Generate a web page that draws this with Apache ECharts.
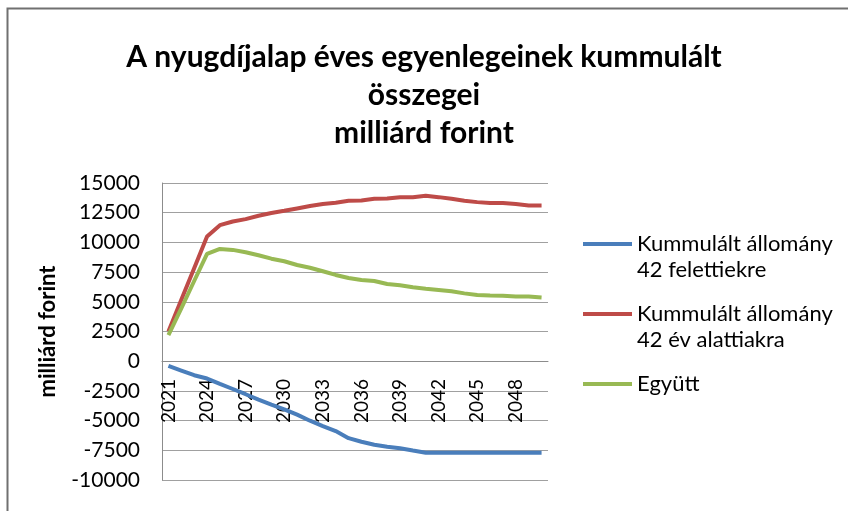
<!DOCTYPE html>
<html>
<head>
<meta charset="utf-8">
<script src="https://cdn.jsdelivr.net/npm/echarts@6/dist/echarts.min.js"></script>
<style>
  html, body { margin: 0; padding: 0; background: #fff; }
  #chart { width: 848px; height: 511px; }
</style>
</head>
<body>
<div id="chart"></div>
<script>
// évek
var years = ['2021','2022','2023','2024','2025','2026','2027','2028','2029','2030',
  '2031','2032','2033','2034','2035','2036','2037','2038','2039','2040',
  '2041','2042','2043','2044','2045','2046','2047','2048','2049','2050'];

// Kummulált állomány 42 felettiekre
var felett = [-400, -790, -1180, -1460, -1910, -2340, -2780, -3230, -3650, -4050,
  -4500, -5010, -5460, -5880, -6480, -6780, -7030, -7200, -7330, -7520,
  -7700, -7700, -7700, -7700, -7700, -7700, -7700, -7700, -7700, -7700];

// Kummulált állomány 42 év alattiakra
var alatt = [2500, 5170, 7830, 10500, 11450, 11760, 11960, 12240, 12470, 12660,
  12860, 13060, 13230, 13340, 13500, 13530, 13670, 13700, 13810, 13810,
  13920, 13810, 13670, 13500, 13390, 13310, 13310, 13230, 13110, 13110];

// Együtt
var egyutt = [2200, 4450, 6750, 9030, 9450, 9370, 9170, 8920, 8630, 8410,
  8100, 7870, 7570, 7260, 7000, 6830, 6750, 6500, 6390, 6220,
  6100, 5990, 5880, 5710, 5570, 5530, 5510, 5450, 5450, 5370];

var names = ['Kummulált állomány\n42 felettiekre', 'Kummulált állomány\n42 év alattiakra', 'Együtt'];
var colors = ['#4a7ebb', '#be4b48', '#98b954'];

var font = 'Lato, "Noto Sans", sans-serif';

var myChart = echarts.init(document.getElementById('chart'));

// egy legenda-elem; a kétsoros szövegnél az első sor álljon a vonal mellett
function legendFor(i, top, twoLines) {
  return {
    orient: 'vertical',
    left: 583,
    top: top,
    padding: 0,
    icon: 'rect',
    itemWidth: 49,
    itemHeight: 4,
    itemGap: 4,
    selectedMode: false,
    data: [names[i]],
    formatter: function (n) { return twoLines ? ' \n' + n : n; },
    textStyle: {
      fontFamily: font,
      fontSize: 22,
      lineHeight: 26,
      color: '#000'
    }
  };
}

var option = {
  animation: false,
  textStyle: { fontFamily: font },
  title: {
    text: 'A nyugdíjalap éves egyenlegeinek kummulált\nösszegei\nmilliárd forint',
    left: 'center',
    top: 33,
    textStyle: {
      fontFamily: font,
      fontSize: 30,
      fontWeight: 'bold',
      lineHeight: 38,
      color: '#000'
    }
  },
  graphic: [{
    type: 'rect',
    shape: { x: 7.5, y: 8.5, width: 900, height: 600 },
    style: { fill: 'none', stroke: '#707070', lineWidth: 2 },
    silent: true
  }],
  legend: [
    legendFor(0, 205, true),
    legendFor(1, 275, true),
    legendFor(2, 371, false)
  ],
  grid: { left: 162, top: 183, right: 300, bottom: 31, containLabel: false, outerBoundsMode: 'none' },
  xAxis: {
    type: 'category',
    data: years,
    boundaryGap: true,
    offset: -119,
    axisLine: { onZero: false, lineStyle: { color: '#8c8c8c', width: 1 } },
    axisTick: { show: false },
    axisLabel: {
      interval: 2,
      rotate: 90,
      fontSize: 19,
      color: '#000',
      margin: 18
    },
    splitLine: { show: false }
  },
  yAxis: {
    type: 'value',
    min: -10000,
    max: 15000,
    interval: 2500,
    name: 'milliárd forint',
    nameLocation: 'middle',
    nameGap: 103,
    nameTextStyle: { fontSize: 22, fontWeight: 'bold', color: '#000' },
    axisLine: { show: true, lineStyle: { color: '#8c8c8c' } },
    axisTick: { show: false },
    axisLabel: { fontSize: 21, color: '#000', margin: 22, formatter: function (v) { return String(v); } },
    splitLine: { lineStyle: { color: '#a0a0a0', width: 1 } }
  },
  series: [
    { name: names[0], type: 'line', data: felett, symbol: 'none', lineStyle: { width: 4, color: colors[0] }, itemStyle: { color: colors[0] } },
    { name: names[1], type: 'line', data: alatt, symbol: 'none', lineStyle: { width: 4, color: colors[1] }, itemStyle: { color: colors[1] } },
    { name: names[2], type: 'line', data: egyutt, symbol: 'none', lineStyle: { width: 4, color: colors[2] }, itemStyle: { color: colors[2] } }
  ]
};

myChart.setOption(option);
</script>
</body>
</html>
